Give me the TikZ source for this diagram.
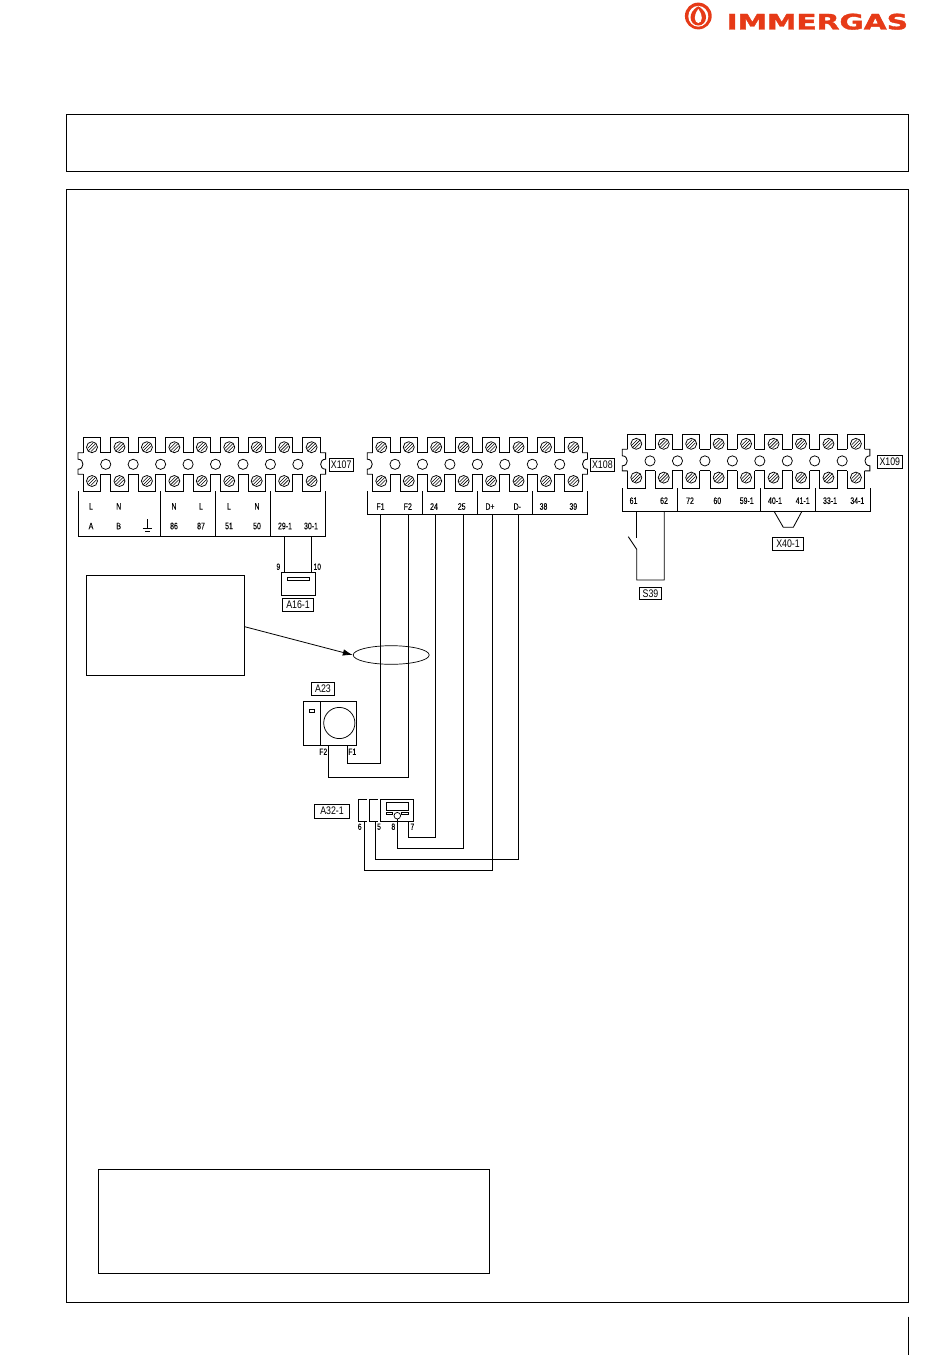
\documentclass[tikz,border=0pt]{standalone}
\usepackage{graphicx}
\usepackage{fontspec}
\usetikzlibrary{shapes.geometric,arrows.meta}
\newfontfamily\cadfont[FakeStretch=0.74,FakeBold=0.15]{Liberation Sans}
\newfontfamily\tagfont[FakeStretch=0.8]{Liberation Sans}
\newfontfamily\logofont[FakeBold=1.6]{DejaVu Sans}
\definecolor{logored}{HTML}{E63A17}
\tikzset{
  wire/.style={line width=0.85pt,line join=miter},
  frameb/.style={draw,line width=0.85pt,inner sep=0pt,minimum width=#1},
  smalltxt/.style={font=\cadfont\fontsize{9.4}{10}\selectfont,inner sep=0pt},
  pintxt/.style={font=\cadfont\fontsize{9}{10}\selectfont,inner sep=0pt},
  tagbox/.style={draw,line width=0.8pt,inner sep=0pt,font=\tagfont\fontsize{11}{12}\selectfont,minimum height=13pt},
}
% terminal block: left edge, top y, number of poles
\newcommand{\tblock}[3]{%
  \pgfmathsetmacro{\xr}{#1+28+27.45*(#3-1)}
  \draw[wire] (#1+5.3,#2+15) -- (#1,#2+15) -- (#1,#2+21.5)
     .. controls (#1+6.6,#2+21.5) and (#1+6.6,#2+31.5) .. (#1,#2+31.5)
     -- (#1,#2+36.6) -- (#1+5.3,#2+36.6);
  \draw[wire] (\xr-5.3,#2+15) -- (\xr,#2+15) -- (\xr,#2+21.5)
     .. controls (\xr-6.6,#2+21.5) and (\xr-6.6,#2+31.5) .. (\xr,#2+31.5)
     -- (\xr,#2+36.6) -- (\xr-5.3,#2+36.6);
  \pgfmathtruncatemacro{\lastk}{#3-1}
  \foreach \k in {0,...,\lastk}{
    \pgfmathsetmacro{\cx}{#1+14+27.45*\k}
    \draw[wire] (\cx-8.7,#2+15) -- (\cx-8.7,#2) -- (\cx+8.7,#2) -- (\cx+8.7,#2+15);
    \draw[wire] (\cx-8.7,#2+36.6) -- (\cx-8.7,#2+53.7) -- (\cx+8.7,#2+53.7) -- (\cx+8.7,#2+36.6);
    \ifnum\k<\lastk
      \draw[wire] (\cx+8.7,#2+15) -- (\cx+18.75,#2+15);
      \draw[wire] (\cx+8.7,#2+36.6) -- (\cx+18.75,#2+36.6);
      \draw[line width=0.75pt,fill=white] (\cx+13.72,#2+26.6) circle [radius=5.1pt];
    \fi
    \foreach \sy in {9.5,43.3}{
      \draw[line width=0.75pt,fill=white] (\cx,#2+\sy) circle [radius=5.5pt];
      \draw[line width=0.55pt] (\cx-3.7,#2+\sy+3.7) -- (\cx+3.7,#2+\sy-3.7);
      \draw[line width=0.55pt] (\cx-4.2,#2+\sy+1) -- (\cx+1,#2+\sy-4.2);
      \draw[line width=0.55pt] (\cx-1,#2+\sy+4.2) -- (\cx+4.2,#2+\sy-1);
    }
  }
}
\begin{document}
\begin{tikzpicture}[x=1pt,y=-1pt]
\useasboundingbox (0,0) rectangle (950,1369);
% logo
\fill[logored] (698.3,16) circle [radius=13.4pt];
\fill[white] (698.3,16.3) circle [x radius=10pt,y radius=10.4pt];
\fill[logored] (698.3,6.3) .. controls (692,10) and (690.6,14) .. (690.6,17.5) .. controls (690.6,22) and (694,25.5) .. (698.3,25.5) .. controls (702.6,25.5) and (706,22) .. (706,17.5) .. controls (706,14) and (704.6,10) .. (698.3,6.3) -- cycle;
\fill[white] (698.3,9) .. controls (695.5,13) and (694.8,15.5) .. (694.8,18) .. controls (694.8,21) and (696.5,23) .. (698.3,23) .. controls (700.1,23) and (701.8,21) .. (701.8,18) .. controls (701.8,15.5) and (701.1,13) .. (698.3,9) -- cycle;
\node[inner sep=0pt,text=logored] (logo) at (817.3,21.7) {\resizebox{181.5pt}{15.8pt}{\logofont\bfseries IMMERGAS}};
% page frames
\node[frameb=842pt,minimum height=57.5pt] (topframe) at (487.4,142.7) {};
\node[frameb=842pt,minimum height=1113pt] (mainframe) at (487.4,746) {};
\node[frameb=157.6pt,minimum height=100pt] (notebox) at (165.5,625.3) {};
\node[frameb=391.5pt,minimum height=104pt] (legendbox) at (294,1221) {};
\coordinate (pageA) at (908.4,1316.7);
\coordinate (pageB) at (908.4,1355);
\draw[wire] (pageA) -- (pageB);

% X107
\tblock{78}{437.7}{9}
\draw[wire] (78,491.4) -- (78,536) -- (325.7,536) -- (325.7,491.4);
\foreach \dx in {160.3,215.7,270.3} \draw[wire] (\dx,491.4) -- (\dx,536);
\foreach \px/\t in {91/L,118.7/N,174/N,201/L,229/L,257/N} \node[smalltxt] at (\px,506.3) {\t};
\foreach \px/\t in {91/A,118.7/B,174/86,201/87,229/51,257/50,285/29-1,311/30-1} \node[smalltxt] at (\px,526) {\t};
\draw[line width=0.8pt] (147.3,519) -- (147.3,528.7) (142.6,528.7) -- (152,528.7) (145,531) -- (149.6,531);
\node[tagbox,minimum width=24.6pt] (x107) at (341.2,464.8) {X107};

% X108
\tblock{367.3}{437.7}{8}
\draw[wire] (367.3,491.4) -- (367.3,514.3) -- (587.4,514.3) -- (587.4,491.4);
\foreach \dx in {422.3,477.3,532.3} \draw[wire] (\dx,491.4) -- (\dx,514.3);
\foreach \px/\t in {380.5/F1,407.8/F2,434/24,461.7/25,490/D+,517.3/D-,543.5/38,573.3/39} \node[smalltxt] at (\px,506.5) {\t};
\node[tagbox,minimum width=24.6pt] (x108) at (602.4,464.8) {X108};

% X109
\tblock{622.3}{434.3}{9}
\draw[wire] (622.3,488) -- (622.3,511.7) -- (870.7,511.7) -- (870.7,488);
\foreach \dx in {677.3,760.7,815.3} \draw[wire] (\dx,488) -- (\dx,511.7);
\foreach \px/\t in {633.5/61,664/62,690/72,717.3/60,746.7/59-1,775/40-1,802.7/41-1,830/33-1,857.3/34-1} \node[smalltxt] at (\px,500.7) {\t};
\node[tagbox,minimum width=25pt] (x109) at (889.8,461.8) {X109};

% A16-1
\node[frameb=34pt,minimum height=22.4pt] (a16) at (298,583.9) {};
\draw[wire] (287,577) rectangle (309,580);
\coordinate (t29) at (284.3,536);
\coordinate (t30) at (311,536);
\draw[wire] (t29) -- (t29 |- a16.north);
\draw[wire] (t30) -- (t30 |- a16.north);
\node[pintxt] at (278.3,566.7) {9};
\node[pintxt] at (317.3,566.7) {10};
\node[tagbox,minimum width=30.6pt] (a16tag) at (298,605) {A16-1};

% cable ring and pointer
\node[ellipse,draw,line width=0.7pt,fill=none,minimum width=76pt,minimum height=18.6pt,inner sep=0pt] (ring) at (391.2,655) {};
\draw[line width=0.8pt,-{Latex[length=10pt,width=6.5pt]}] (notebox.east |- 0,626.7) -- (ring.west);

% S39
\coordinate (t61) at (636.7,511.7);
\coordinate (t62) at (664.3,511.7);
\coordinate (s39a) at (636.7,538.3);
\coordinate (s39b) at (628.3,536.7);
\coordinate (s39c) at (636.7,549.3);
\coordinate (s39d) at (636.7,580);
\coordinate (s39e) at (664.3,580);
\draw[wire] (t61) -- (s39a);
\draw[wire] (s39b) -- (s39c) -- (s39d) -- (s39e) -- (t62);
\node[tagbox,minimum width=22pt,minimum height=12pt] (s39) at (650.5,593.7) {S39};

% X40-1 bridge
\coordinate (t40) at (774.3,511.7);
\coordinate (t41) at (801.7,511.7);
\draw[wire] (t40) -- (783.3,527.3) -- (793.3,527.3) -- (t41);
\node[tagbox,minimum width=31.4pt,minimum height=12.3pt] (x40) at (788,543.9) {X40-1};

% A23
\node[frameb=53.4pt,minimum height=43.6pt] (a23) at (330,723.5) {};
\draw[wire] (320.7,701.7) -- (320.7,745.3);
\draw[line width=0.7pt] (309.3,709.3) rectangle (314.3,712.3);
\draw[line width=0.75pt] (339.3,723) circle [radius=15.6pt];
\node[tagbox,minimum width=22.6pt,minimum height=13.4pt] (a23tag) at (323,689) {A23};
\node[pintxt] at (323.3,751.7) {F2};
\node[pintxt] at (352.3,751.7) {F1};
\coordinate (tF1) at (380.7,514.3);
\coordinate (tF2) at (408.7,514.3);
\coordinate (t24) at (435.3,514.3);
\coordinate (t25) at (463.3,514.3);
\coordinate (tDp) at (492.3,514.3);
\coordinate (tDm) at (518.3,514.3);
\coordinate (a23F1) at (347.3,745.3);
\coordinate (a23F2) at (328.3,745.3);
\draw[wire] (a23F1) |- (0,763.3 -| tF1) -- (tF1);
\draw[wire] (a23F2) |- (0,777 -| tF2) -- (tF2);

% A32-1
\node[tagbox,minimum width=35.4pt,minimum height=14.3pt] (a32tag) at (332,811.2) {A32-1};
\node[frameb=33.4pt,minimum height=21.7pt] (a32) at (397,810.2) {};
\draw[line width=0.75pt] (386,802.7) rectangle (408.7,810);
\draw[line width=0.7pt] (386,812.3) rectangle (392.7,814.3);
\draw[line width=0.7pt] (401.7,812.3) rectangle (408.7,814.3);
\draw[line width=0.7pt,fill=white] (397.3,815.7) circle [radius=3.3pt];
\draw[wire] (366.7,799.3) -- (358.3,799.3) -- (358.3,821) -- (366.7,821);
\draw[wire] (377.7,799.3) -- (369.3,799.3) -- (369.3,821) -- (377.7,821);
\node[pintxt] at (359.7,826.7) {6};
\node[pintxt] at (379,826.7) {5};
\node[pintxt] at (393.3,826.7) {8};
\node[pintxt] at (412.3,826.7) {7};
\coordinate (p7) at (408.3,821);
\coordinate (p8) at (397.3,819);
\coordinate (p5) at (375.7,821);
\coordinate (p6) at (364.3,821);
\draw[wire] (p7) |- (0,837.3 -| t24) -- (t24);
\draw[wire] (p8) |- (0,848.3 -| t25) -- (t25);
\draw[wire] (p5) |- (0,859 -| tDm) -- (tDm);
\draw[wire] (p6) |- (0,870.3 -| tDp) -- (tDp);
\end{tikzpicture}
\end{document}
